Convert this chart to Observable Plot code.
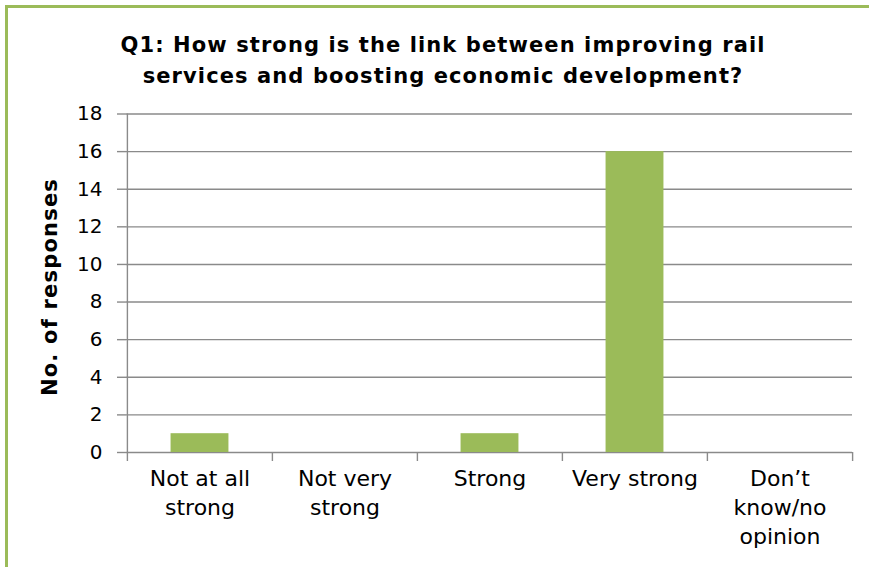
<!DOCTYPE html>
<html>
<head>
<meta charset="utf-8">
<script src="https://cdn.jsdelivr.net/npm/d3@7"></script>
<script src="https://cdn.jsdelivr.net/npm/@observablehq/plot@0.6"></script>
<style>
  html, body { margin: 0; padding: 0; background: #fff; }
  #wrap { position: relative; width: 869px; height: 567px; overflow: hidden; background: #fff; font-family: "DejaVu Sans", Verdana, sans-serif; }
  #border { position: absolute; left: 5px; top: 5px; width: 1000px; height: 1000px; border-left: 3px solid #9bbb59; border-top: 3px solid #9bbb59; }
  #chart { position: absolute; left: 0; top: 0; }
  #title { position: absolute; left: 0; top: 30px; width: 886px; text-align: center; font-weight: bold; font-size: 21px; letter-spacing: 1.1px; line-height: 31px; color: #000; }
  #ylabel { position: absolute; left: 50px; top: 287px; transform: translate(-50%, -50%) rotate(-90deg); white-space: nowrap; font-weight: bold; font-size: 21px; letter-spacing: 1.2px; color: #000; }
</style>
</head>
<body>
<div id="wrap">
  <div id="border"></div>
  <div id="chart"></div>
  <div id="title">Q1: How strong is the link between improving rail<br>services and boosting economic development?</div>
  <div id="ylabel">No. of responses</div>
</div>
<script>
const categories = ["Not at all strong", "Not very strong", "Strong", "Very strong", "Don’t know/no opinion"];
const tickLabels = ["Not at all\nstrong", "Not very\nstrong", "Strong", "Very strong", "Don’t\nknow/no\nopinion"];
const responses = [1, 0, 1, 16, 0];
const yTicks = [0, 2, 4, 6, 8, 10, 12, 14, 16, 18];

const data = categories.map((c, i) => ({category: c, value: responses[i]}));
const labelOf = new Map(categories.map((c, i) => [c, tickLabels[i]]));

const W = 869, H = 567, mL = 126, mR = 17, mT = 113.5, mB = 115;
const bw = (W - mL - mR) / categories.length;
const font = "DejaVu Sans, Verdana, sans-serif";
const grid = "#8a8a8a";

const chart = Plot.plot({
  width: W,
  height: H,
  marginLeft: mL,
  marginRight: mR,
  marginTop: mT,
  marginBottom: mB,
  style: {fontFamily: font, fontSize: "20px", color: "#000", background: "transparent"},
  x: {domain: categories, padding: 0, axis: null},
  y: {domain: [0, 18], axis: null},
  marks: [
    Plot.ruleY(yTicks, {stroke: grid, strokeWidth: 1.4}),
    Plot.barY(data, {x: "category", y: "value", fill: "#9bbb59", insetLeft: bw * 0.3, insetRight: bw * 0.3}),
    Plot.ruleX([categories[0]], {dx: -bw / 2, stroke: grid, strokeWidth: 1.4}),
    Plot.axisY(yTicks, {tickSize: 9, tickPadding: 15, stroke: grid, strokeWidth: 1.4, fontSize: 20, label: null, fill: "#000"}),
    Plot.axisX(categories, {tickSize: 9, stroke: grid, strokeWidth: 1.4, tickFormat: () => "", dx: -bw / 2, label: null}),
    Plot.axisX([categories[categories.length - 1]], {tickSize: 9, stroke: grid, strokeWidth: 1.4, tickFormat: () => "", dx: bw / 2, label: null}),
    Plot.axisX(categories, {tickSize: 0, tickPadding: 13, tickFormat: d => labelOf.get(d), fontSize: 22, lineHeight: 1.32, label: null, fill: "#000"})
  ]
});
document.getElementById("chart").appendChild(chart);
</script>
</body>
</html>
